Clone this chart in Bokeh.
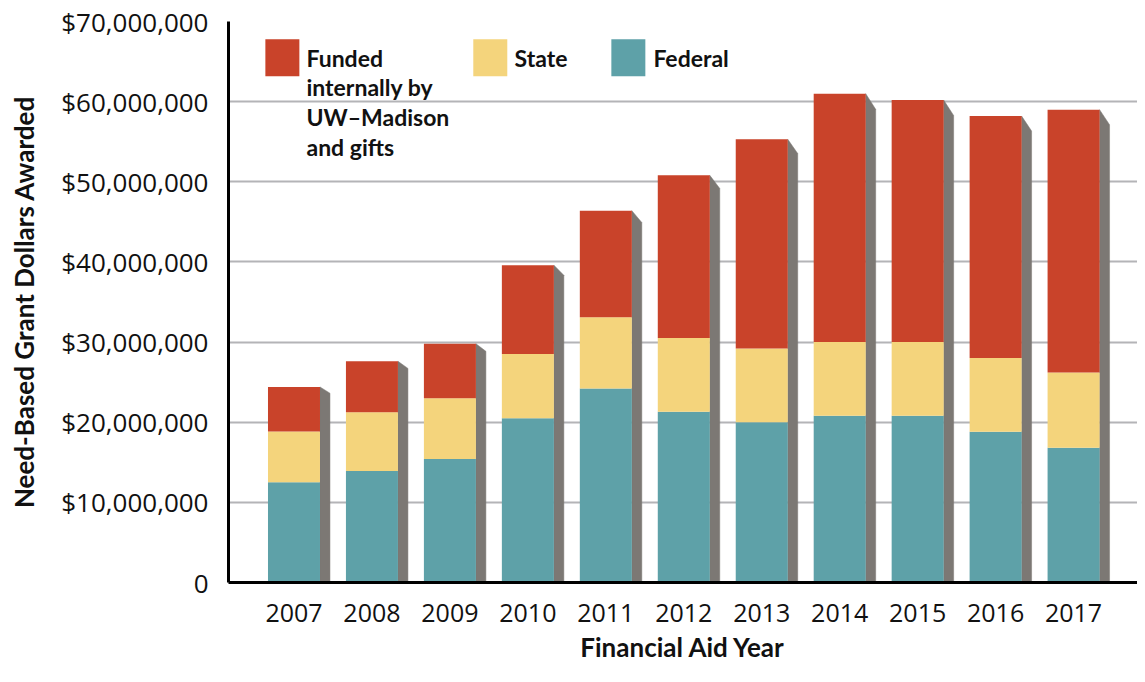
from bokeh.plotting import figure
from bokeh.models import ColumnDataSource, FixedTicker
from bokeh.core.properties import value
from bokeh.embed import file_html
from bokeh.resources import INLINE

# ---- data (millions of dollars) ----
years = [2007, 2008, 2009, 2010, 2011, 2012, 2013, 2014, 2015, 2016, 2017]
federal = [12.50, 13.9, 15.4, 20.5, 24.2, 21.3, 20.0, 20.8, 20.8, 18.8, 16.8]
state = [6.35, 7.35, 7.6, 8.0, 8.9, 9.2, 9.2, 9.2, 9.2, 9.2, 9.4]
internal = [5.55, 6.35, 6.8, 11.1, 13.3, 20.3, 26.1, 31.0, 30.2, 30.2, 32.8]
y_ticks = [0, 10, 20, 30, 40, 50, 60, 70]
legend_labels = ["Funded\ninternally by\nUW\u2013Madison\nand gifts", "State", "Federal"]

RED = "#C9432A"
YEL = "#F4D47C"
TEAL = "#5EA1A8"
SIDE = "#7C7874"
FONT = "Lato"
TICK_FONT = "Open Sans"

M = 1e6
BAR_W = 0.667
SIDE_W = 0.128
SLANT = 0.032

fed_top = [f * M for f in federal]
state_top = [(f + s) * M for f, s in zip(federal, state)]
total = [(f + s + i) * M for f, s, i in zip(federal, state, internal)]

src = ColumnDataSource(dict(x=years, zero=[0] * len(years), fed_top=fed_top,
                            state_top=state_top, total=total))

p = figure(width=1137, height=666, x_range=(2006.16, 2017.82), y_range=(0, 70 * M),
           output_backend="svg", toolbar_location=None,
           min_border_left=228, min_border_right=0, min_border_top=21, min_border_bottom=84)
p.outline_line_color = None
p.background_fill_color = "white"
p.border_fill_color = "white"

# side faces (perspective shadow)
xs, ys = [], []
for x, t in zip(years, total):
    xr = x + BAR_W / 2
    xs.append([xr, xr + SIDE_W, xr + SIDE_W, xr])
    ys.append([t, t * (1 - SLANT), 0, 0])
p.patches(xs, ys, fill_color=SIDE, line_color=SIDE, line_width=0.5)

# stacked bars
p.vbar(x="x", bottom="zero", top="fed_top", width=BAR_W, source=src,
       fill_color=TEAL, line_color=None)
p.vbar(x="x", bottom="fed_top", top="state_top", width=BAR_W, source=src,
       fill_color=YEL, line_color=None)
p.vbar(x="x", bottom="state_top", top="total", width=BAR_W, source=src,
       fill_color=RED, line_color=None)

# grid & axes
p.xgrid.grid_line_color = None
p.ygrid.grid_line_color = "#B4B4B7"
p.ygrid.grid_line_width = 2

p.yaxis.ticker = FixedTicker(ticks=[t * M for t in y_ticks])
p.yaxis.major_label_overrides = {t * M: ("0" if t == 0 else "${:,}".format(int(t * M))) for t in y_ticks}
p.xaxis.ticker = FixedTicker(ticks=years)
p.xaxis.major_label_overrides = {y: str(y) for y in years}

for ax in (p.xaxis, p.yaxis):
    ax.axis_line_color = "#000000"
    ax.axis_line_width = 3
    ax.major_tick_line_color = None
    ax.minor_tick_line_color = None
    ax.major_label_text_font = TICK_FONT
    ax.major_label_text_color = "#111111"
    ax.axis_label_text_font = FONT
    ax.axis_label_text_font_style = "bold"
    ax.axis_label_text_font_size = "26px"
    ax.axis_label_text_color = "#111111"

p.yaxis.major_label_text_font_size = "26px"
p.yaxis.major_label_standoff = 14
p.yaxis.axis_label = "Need-Based Grant Dollars Awarded"
p.yaxis.axis_label_standoff = 18
p.xaxis.major_label_text_font_size = "25px"
p.xaxis.major_label_standoff = 15
p.xaxis.axis_label = "Financial Aid Year"
p.xaxis.axis_label_standoff = 6

# legend (manual)
sq_x = [2006.851, 2009.518, 2011.289]
sq_y = 65.47 * M
p.rect(x=sq_x, y=[sq_y] * 3, width=34, height=37, width_units="screen", height_units="screen",
       fill_color=[RED, YEL, TEAL], line_color=None)
txt_x = [2007.16, 2009.83, 2011.61]
first_lines = legend_labels[0].split("\n")
line_y = [65.45 * M, 61.77 * M, 58.05 * M, 54.38 * M]
p.text(x=[txt_x[0]] * len(first_lines), y=line_y[:len(first_lines)], text=first_lines,
       text_font=value(FONT), text_font_style="bold", text_font_size="23px",
       text_baseline="alphabetic", text_align="left", text_color="#111111")
p.text(x=txt_x[1:], y=[line_y[0]] * 2, text=legend_labels[1:],
       text_font=value(FONT), text_font_style="bold", text_font_size="23px",
       text_baseline="alphabetic", text_align="left", text_color="#111111")

open("out.html", "w").write(file_html(p, INLINE))
